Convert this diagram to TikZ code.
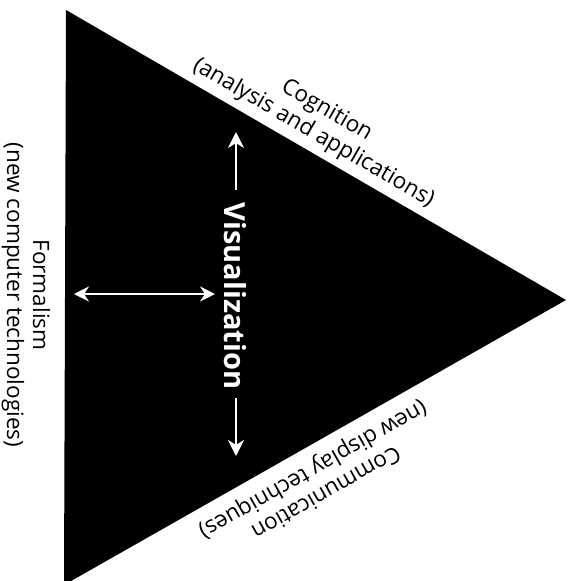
\documentclass[tikz,border=0pt]{standalone}
\usepackage{fontspec}
\setmainfont{Open Sans}
\usetikzlibrary{arrows.meta}
\begin{document}
\begin{tikzpicture}[x=1pt,y=-1pt,
  edgelabel/.style={align=center,inner sep=0pt,font=\fontsize{22.5}{26}\selectfont},
  vislabel/.style={text=white,inner sep=0pt,font=\fontsize{29}{32}\selectfont\bfseries},
  whitearrow/.style={draw=white,line width=2.6pt,-{Stealth[length=16pt,width=16pt,inset=5pt]}},
  dblarrow/.style={draw=white,line width=2.4pt,{Stealth[length=15pt,width=15pt,inset=5pt]}-{Stealth[length=15pt,width=15pt,inset=5pt]}}]
\useasboundingbox (0,0) rectangle (570,581);
\coordinate (tl) at (66,10);
\coordinate (bl) at (64,585);
\coordinate (ap) at (566,300);
\fill[black] (tl) -- (ap) -- (bl) -- cycle;
\node[edgelabel,rotate=-30.1] (cog) at (320,122) {Cognition\\(analysis and applications)};
\node[edgelabel,rotate=-90] (form) at (26,295) {Formalism\\(new computer technologies)};
\node[edgelabel,rotate=209.6] (comm) at (319,480) {Communication\\(new display techniques)};
\node[vislabel,rotate=-90] (vis) at (235,296) {Visualization};
\coordinate (uptail) at (236,190);
\coordinate (uphead) at (236,132);
\coordinate (dntail) at (236,398);
\coordinate (dnhead) at (236,456);
\coordinate (lf) at (74,294);
\coordinate (rt) at (215,294);
\draw[whitearrow] (uptail) -- (uphead);
\draw[whitearrow] (dntail) -- (dnhead);
\draw[dblarrow] (lf) -- (rt);
\end{tikzpicture}
\end{document}
